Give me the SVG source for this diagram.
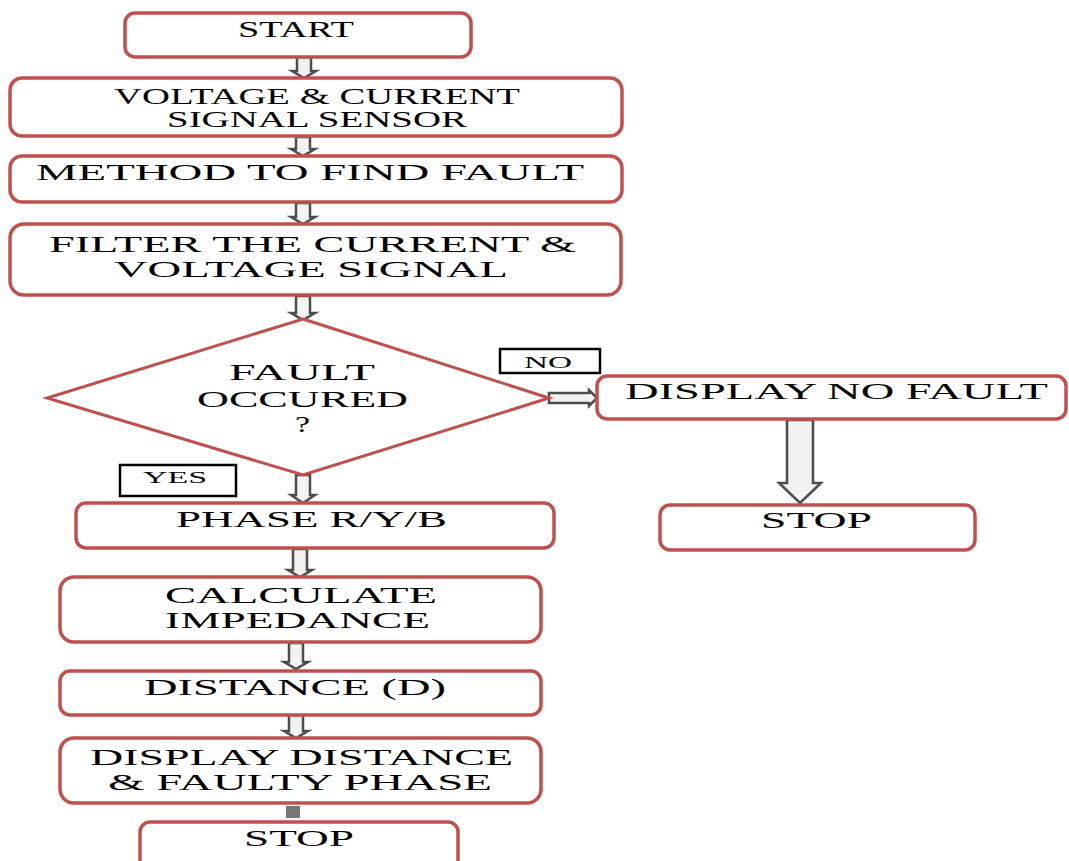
<svg xmlns="http://www.w3.org/2000/svg" width="1069" height="861" viewBox="0 0 1069 861">
<style>
.box{fill:#ffffff;stroke:#c0504d;stroke-width:3.5}
.lbl{fill:#ffffff;stroke:#000000;stroke-width:2.5}
.t{font-family:"Liberation Serif","Times New Roman",serif;font-size:23px;fill:#000000}
.ts{font-family:"Liberation Serif","Times New Roman",serif;font-size:16px;fill:#000000}
.arr{fill:#f2f2f2;stroke:#4d4d4d;stroke-width:2.5;stroke-linejoin:miter}
</style>
<rect x="0" y="0" width="1069" height="861" fill="#ffffff"/>
<g id="connectors">
<polygon class="arr" points="297,57 311,57 311,71 316,71 304,78 292,71 297,71"/>
<polygon class="arr" points="296,137 310,137 310,149 315,149 303,156 291,149 296,149"/>
<polygon class="arr" points="296,203 310,203 310,217 315,217 303,224 291,217 296,217"/>
<polygon class="arr" points="296,296 310,296 310,313 315,313 303,320 291,313 296,313"/>
<polygon class="arr" points="296,475 310,475 310,495 315,495 303,503 291,495 296,495"/>
<polygon class="arr" points="293,549 307,549 307,570 312,570 300,577 288,570 293,570"/>
<polygon class="arr" points="289,643 303,643 303,662 308,662 296,669 284,662 289,662"/>
<polygon class="arr" points="289,715 303,715 303,731 308,731 296,738 284,731 289,731"/>
<rect x="286" y="806" width="14" height="12" fill="#777777"/>
<polygon class="arr" points="549,393 589,393 589,390 597,398 589,406 589,403 549,403"/>
<polygon class="arr" points="787,420 813,420 813,483 821,483 800,503 779,483 787,483"/>
</g>
<g id="start">
<rect class="box" x="125" y="13" width="346" height="44" rx="10"/>
<text class="t" x="238" y="37" font-size="21" textLength="116" lengthAdjust="spacingAndGlyphs">START</text>
</g>
<g id="sensor">
<rect class="box" x="10" y="78" width="612" height="58" rx="12"/>
<text class="t" x="114" y="104" font-size="21" textLength="406" lengthAdjust="spacingAndGlyphs">VOLTAGE &amp; CURRENT</text>
<text class="t" x="167" y="127" font-size="21" textLength="300" lengthAdjust="spacingAndGlyphs">SIGNAL SENSOR</text>
</g>
<g id="method">
<rect class="box" x="10" y="156" width="612" height="46" rx="12"/>
<text class="t" x="36" y="180" font-size="24" textLength="548" lengthAdjust="spacingAndGlyphs">METHOD TO FIND FAULT</text>
</g>
<g id="filter">
<rect class="box" x="10" y="224" width="611" height="71" rx="14"/>
<text class="t" x="49" y="252" textLength="527" lengthAdjust="spacingAndGlyphs">FILTER THE CURRENT &amp;</text>
<text class="t" x="114" y="277" textLength="394" lengthAdjust="spacingAndGlyphs">VOLTAGE SIGNAL</text>
</g>
<g id="decision">
<polygon points="303,319 549,398 303,475 47,398" fill="#ffffff" stroke="#c0504d" stroke-width="3"/>
<text class="t" x="229" y="380" textLength="146" lengthAdjust="spacingAndGlyphs">FAULT</text>
<text class="t" x="197" y="407" textLength="211" lengthAdjust="spacingAndGlyphs">OCCURED</text>
<text class="t" x="295" y="432" textLength="15" lengthAdjust="spacingAndGlyphs">?</text>
</g>
<g id="no-label">
<rect class="lbl" x="500" y="349" width="100" height="24"/>
<text class="ts" x="524" y="368" textLength="48" lengthAdjust="spacingAndGlyphs">NO</text>
</g>
<g id="yes-label">
<rect class="lbl" x="120" y="465" width="116" height="31"/>
<text class="ts" x="143" y="483" textLength="64" lengthAdjust="spacingAndGlyphs">YES</text>
</g>
<g id="display-no-fault">
<rect class="box" x="597" y="376" width="469" height="43" rx="10"/>
<text class="t" x="625" y="399" textLength="423" lengthAdjust="spacingAndGlyphs">DISPLAY NO FAULT</text>
</g>
<g id="stop-right">
<rect class="box" x="660" y="505" width="315" height="45" rx="10"/>
<text class="t" x="761" y="528" textLength="111" lengthAdjust="spacingAndGlyphs">STOP</text>
</g>
<g id="phase">
<rect class="box" x="76" y="503" width="478" height="45" rx="10"/>
<text class="t" x="176" y="527" textLength="271" lengthAdjust="spacingAndGlyphs">PHASE R/Y/B</text>
</g>
<g id="impedance">
<rect class="box" x="60" y="577" width="481" height="65" rx="14"/>
<text class="t" x="165" y="603" textLength="272" lengthAdjust="spacingAndGlyphs">CALCULATE</text>
<text class="t" x="165" y="628" textLength="265" lengthAdjust="spacingAndGlyphs">IMPEDANCE</text>
</g>
<g id="distance">
<rect class="box" x="60" y="671" width="481" height="44" rx="10"/>
<text class="t" x="144" y="695" textLength="302" lengthAdjust="spacingAndGlyphs">DISTANCE (D)</text>
</g>
<g id="display-distance">
<rect class="box" x="60" y="738" width="481" height="65" rx="14"/>
<text class="t" x="90" y="765" textLength="423" lengthAdjust="spacingAndGlyphs">DISPLAY DISTANCE</text>
<text class="t" x="108" y="790" textLength="384" lengthAdjust="spacingAndGlyphs">&amp; FAULTY PHASE</text>
</g>
<g id="stop-bottom">
<rect class="box" x="140" y="822" width="318" height="60" rx="10"/>
<text class="t" x="244" y="846" textLength="110" lengthAdjust="spacingAndGlyphs">STOP</text>
</g>
</svg>
